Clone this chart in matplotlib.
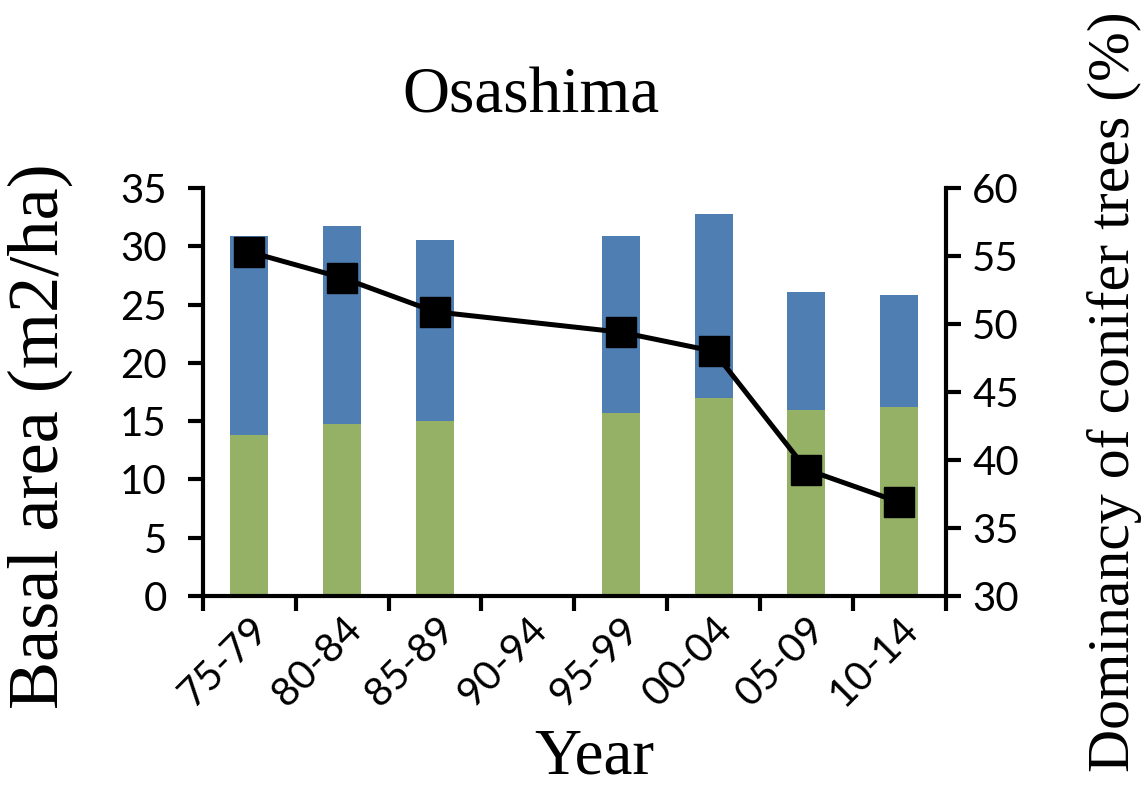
import matplotlib
matplotlib.use("Agg")
import matplotlib.pyplot as plt
import numpy as np

# Basal area per 5-year period, split into conifer (green) and broadleaf (blue)
periods = ["75-79", "80-84", "85-89", "90-94", "95-99", "00-04", "05-09", "10-14"]
conifer_ba = [13.8, 14.75, 15.0, 0, 15.7, 17.0, 16.0, 16.2]
broadleaf_ba = [17.1, 16.95, 15.5, 0, 15.2, 15.8, 10.1, 9.6]

# Conifer dominancy (%), no survey in 90-94
dom_idx = [0, 1, 2, 4, 5, 6, 7]
dominancy = [55.3, 53.4, 50.9, 49.4, 48.0, 39.3, 36.9]

green = "#94B165"
blue = "#4F7EB2"
serif = "Liberation Serif"
tick_font = "Lato"
tick_size = 29

fig = plt.figure(figsize=(11.48, 7.89), dpi=100)
ax = fig.add_axes([0.1768, 0.2446, 0.647, 0.5171])

x = np.arange(len(periods))
ax.bar(x, conifer_ba, width=0.41, color=green, zorder=2)
ax.bar(x, broadleaf_ba, width=0.41, bottom=conifer_ba, color=blue, zorder=2)

ax.set_xlim(-0.5, 7.5)
ax.set_ylim(0, 35)
ax.set_yticks(range(0, 36, 5))

# category labels at centres, tick marks on the boundaries
ax.set_xticks(x)
ax.set_xticklabels(periods, rotation=45, ha="right", rotation_mode="anchor",
                   fontname=tick_font, fontsize=tick_size)
ax.tick_params(axis="x", which="major", length=0, pad=10)
ax.set_xticks(np.arange(-0.5, 8, 1), minor=True)
ax.tick_params(axis="x", which="minor", length=11, width=3, direction="out")
ax.tick_params(axis="y", length=11, width=3, direction="out", pad=15)
for lab in ax.get_yticklabels():
    lab.set_fontname(tick_font)
    lab.set_fontsize(tick_size)

for s in ["top", "right"]:
    ax.spines[s].set_visible(False)
for s in ["left", "bottom"]:
    ax.spines[s].set_linewidth(3)

ax2 = ax.twinx()
ax2.plot(dom_idx, dominancy, color="black", lw=3.6, marker="s", ms=21,
         markerfacecolor="black", zorder=3)
ax2.set_ylim(30, 60)
ax2.set_yticks(range(30, 61, 5))
ax2.tick_params(axis="y", length=11, width=3, direction="out", pad=8)
for lab in ax2.get_yticklabels():
    lab.set_fontname(tick_font)
    lab.set_fontsize(tick_size)
for s in ["top", "left", "bottom"]:
    ax2.spines[s].set_visible(False)
ax2.spines["right"].set_linewidth(3)

fig.text(0.4625, 0.877, "Osashima", fontname=serif, fontsize=47,
         ha="center", va="center")
fig.text(0.035, 0.447, "Basal area (m2/ha)", fontname=serif, fontsize=52,
         rotation=90, ha="center", va="center")
fig.text(0.971, 0.503, "Dominancy of conifer trees (%)", fontname=serif,
         fontsize=43, rotation=90, ha="center", va="center")
fig.text(0.518, 0.04, "Year", fontname=serif, fontsize=47,
         ha="center", va="center")

fig.savefig("out.png", dpi=100)
